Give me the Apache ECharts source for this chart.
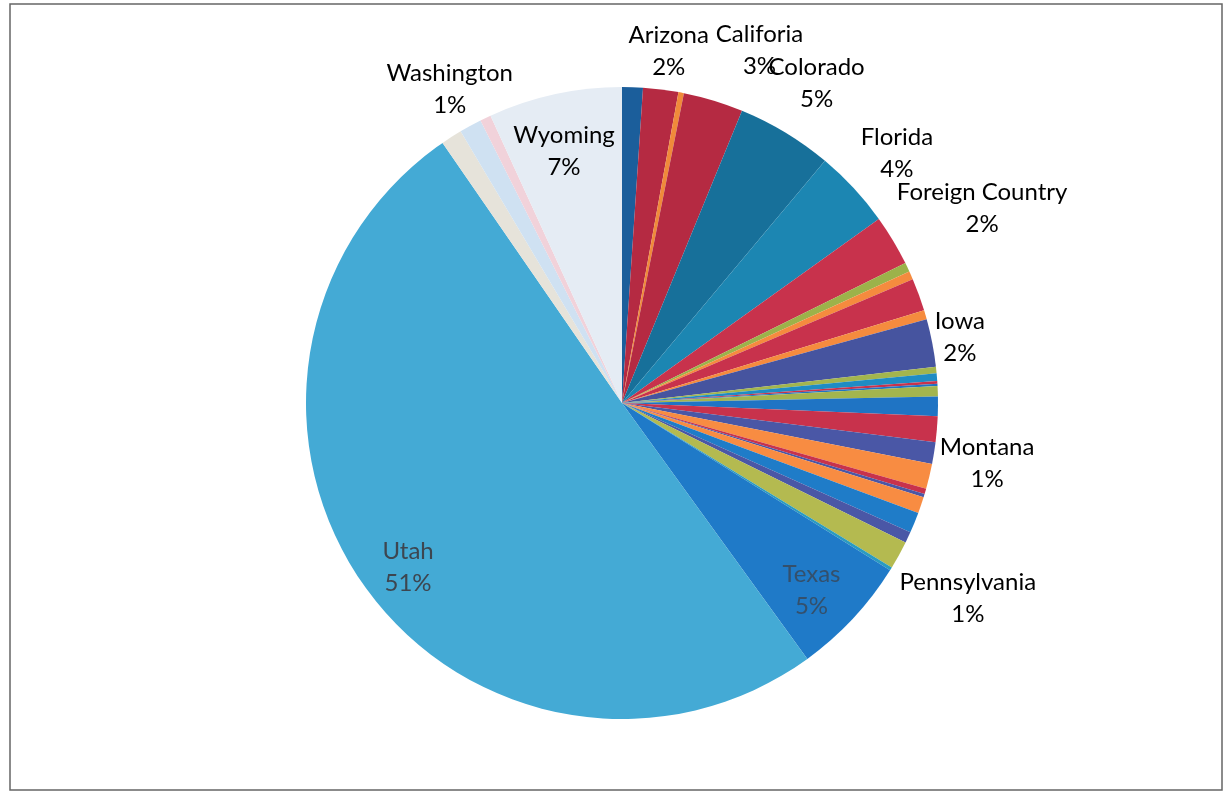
<!DOCTYPE html>
<html>
<head>
<meta charset="utf-8">
<script src="https://cdn.jsdelivr.net/npm/echarts@6/dist/echarts.min.js"></script>
<style>
html,body{margin:0;padding:0;background:#fff;}
#chart{width:1226px;height:799px;}
</style>
</head>
<body>
<div id="chart"></div>
<script>
// ---- data ----
const names = ['Alaska','Arizona','Arkansas','Califoria','Colorado','Florida','Foreign Country','Georgia','Hawaii','Idaho','Illinois','Iowa','Kansas','Kentucky','Louisiana','Maine','Maryland','Massachusetts','Michigan','Montana','Nebraska','Nevada','New Jersey','New Mexico','New York','Oregon','Pennsylvania','Tennessee','Texas','Utah','Virginia','Washington','Wisconsin','Wyoming'];
const values = [1.06,1.8,0.28,3.06,4.9,4.0,2.6,0.47,0.42,1.67,0.47,2.44,0.33,0.39,0.14,0.11,0.53,1.0,1.31,1.11,1.28,0.28,0.17,0.83,1.06,0.56,1.44,0.17,6.14,50.36,1.08,1.14,0.56,6.83];
const pctLabels = ['','2%','','3%','5%','4%','2%','','','','','2%','','','','','','','','1%','','','','','','','1%','','5%','51%','','1%','','7%'];

// ---- styles ----
const colors = ['#1B5E9B','#B52A42','#F08A3A','#B52A42','#17709A','#1C86B2','#C8324C','#9CB24A','#F58B3E','#C8324C','#F58B3E','#46549F','#A3B54E','#1F8CC4','#C8324C','#1F74C4','#A3B54E','#1F74C4','#C8324C','#4A57A6','#F88C42','#C8324C','#4A57A6','#F88C42','#1F7CC8','#4A57A6','#B4BA50','#2A9BC0','#1F7AC8','#44AAD5','#E6E3DA','#CFE1F2','#F1D2DA','#E5ECF4'];
// label placement: radius factor and angle shift (deg) relative to slice middle
const labelPlace = {
  'Arizona':{r:1.124,da:0.5},
  'Califoria':{r:1.197,da:4.5},
  'Colorado':{r:1.184,da:0.2},
  'Florida':{r:1.175,da:0.6},
  'Foreign Country':{r:1.295,da:2.6},
  'Iowa':{r:1.089,da:0},
  'Montana':{r:1.171,da:0.2},
  'Pennsylvania':{r:1.257,da:0.7},
  'Washington':{r:1.133,da:-0.1},
  'Wyoming':{r:0.816,da:-0.7},
  'Utah':{r:0.854,da:-2.3},
  'Texas':{r:0.844,da:1.7}
};
const labelColor = {'Utah':'#3d4650','Texas':'#34506c'};

const CX = 622, CY = 403, R = 316;
const total = values.reduce((a,b)=>a+b,0);
const mids = [];
let cum = 0;
values.forEach(v => { mids.push((cum + v/2)/total*360); cum += v; });

const data = names.map((n,i)=>({
  name:n, value:values[i],
  itemStyle:{color:colors[i]},
  label:{show: pctLabels[i] !== '', color: labelColor[n] || '#000'}
}));

const chart = echarts.init(document.getElementById('chart'));
chart.setOption({
  animation:false,
  backgroundColor:'#fff',
  graphic:[{type:'rect',shape:{x:10,y:4,width:1212,height:786},style:{fill:'none',stroke:'#666',lineWidth:1.5},silent:true}],
  series:[{
    type:'pie',
    center:[CX,CY],
    radius:[0,R],
    startAngle:90,
    clockwise:true,
    avoidLabelOverlap:false,
    itemStyle:{borderWidth:0},
    label:{
      fontFamily:'Lato',
      fontSize:24,
      lineHeight:32,
      align:'center',
      formatter:p=> p.name + '\n' + pctLabels[p.dataIndex]
    },
    labelLine:{show:false},
    labelLayout:function(p){
      const n = names[p.dataIndex];
      const pl = labelPlace[n];
      if(!pl) return {};
      const a = (mids[p.dataIndex] + pl.da) * Math.PI/180;
      return {x: CX + R*pl.r*Math.sin(a), y: CY - R*pl.r*Math.cos(a), align:'center', verticalAlign:'middle'};
    },
    data:data
  }]
});
</script>
</body>
</html>
